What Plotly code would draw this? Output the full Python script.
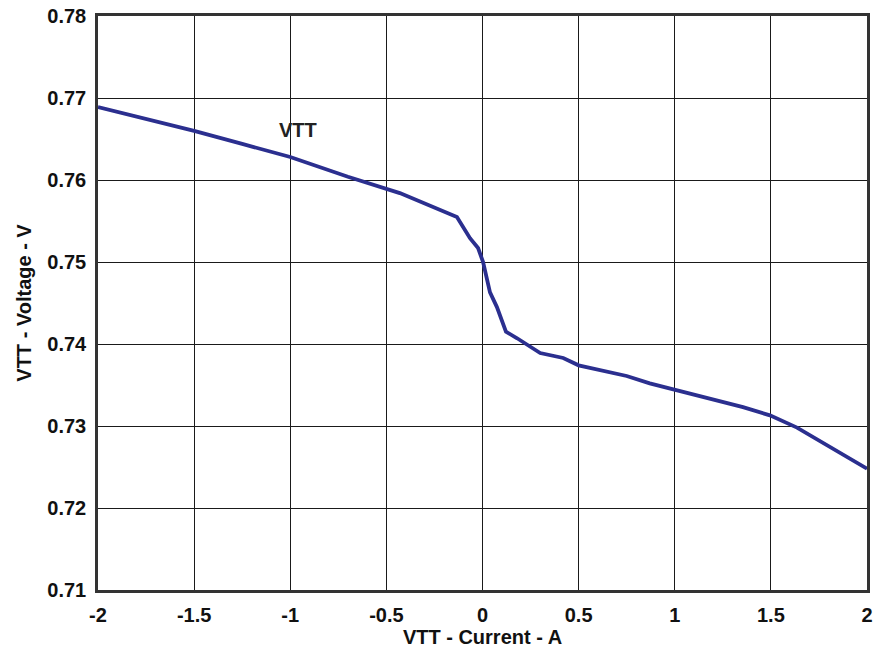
import plotly.graph_objects as go

# VTT load regulation curve
current_a = [-2.0, -1.5, -1.25, -1.0, -0.7, -0.43, -0.133, -0.065, -0.023, 0.003,
             0.039, 0.075, 0.122, 0.18, 0.30, 0.42, 0.5, 0.75, 0.87, 1.0,
             1.355, 1.495, 1.636, 2.0]
voltage_v = [0.7689, 0.7660, 0.7644, 0.7628, 0.7604, 0.7584, 0.7555, 0.7529, 0.7517, 0.7500,
             0.7463, 0.7445, 0.7415, 0.7407, 0.7389, 0.7383, 0.7374, 0.7361, 0.7352, 0.7344,
             0.7323, 0.7313, 0.7298, 0.7248]

x_ticks = [-2, -1.5, -1, -0.5, 0, 0.5, 1, 1.5, 2]
x_labels = ["-2", "-1.5", "-1", "-0.5", "0", "0.5", "1", "1.5", "2"]
y_ticks = [0.71, 0.72, 0.73, 0.74, 0.75, 0.76, 0.77, 0.78]
y_labels = ["0.71", "0.72", "0.73", "0.74", "0.75", "0.76", "0.77", "0.78"]

font_family = "Liberation Sans, Arial, sans-serif"
label_font = dict(family=font_family, size=20, color="#111111", weight="bold")

fig = go.Figure()
fig.add_trace(go.Scatter(
    x=current_a, y=voltage_v, mode="lines",
    line=dict(color="#2b2f8f", width=3.8),
    showlegend=False, hoverinfo="skip",
))

fig.add_annotation(
    x=-0.96, y=0.7661, text="VTT", showarrow=False,
    font=dict(family=font_family, size=20, color="#222222", weight="bold"),
)

axis_common = dict(
    showgrid=True, gridcolor="#1a1a1a", gridwidth=1,
    showline=True, linecolor="#333333", linewidth=2.5, mirror=True,
    zeroline=False, ticks="outside", ticklen=5, tickcolor="rgba(0,0,0,0)",
    automargin=False,
    tickfont=label_font, title_font=label_font,
)

fig.update_xaxes(
    range=[-2, 2], tickvals=x_ticks, ticktext=x_labels,
    title_text="VTT - Current - A", title_standoff=6, **axis_common,
)
fig.update_yaxes(
    range=[0.71, 0.78], tickvals=y_ticks, ticktext=y_labels,
    title_text="VTT - Voltage - V", title_standoff=11, **axis_common,
)

fig.update_layout(
    width=875, height=648,
    margin=dict(l=98, r=8, t=16, b=58),
    plot_bgcolor="white", paper_bgcolor="white",
)

# drop the browser's default body margin so the figure sits at the page corner
fig.write_html(
    "out.html",
    config={"displayModeBar": False},
    post_script="document.body.style.margin='0';",
)
